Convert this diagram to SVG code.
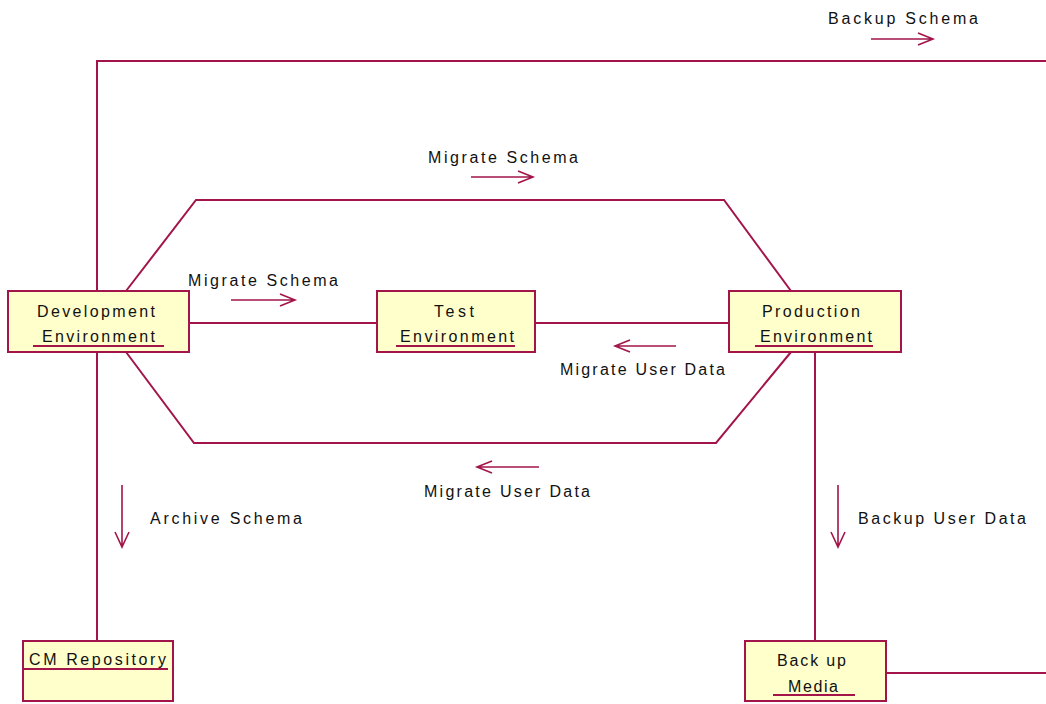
<svg xmlns="http://www.w3.org/2000/svg" width="1046" height="704" viewBox="0 0 1046 704">
<style>
.box{fill:#ffffcc;stroke:#a3154a;stroke-width:2}
.ln{fill:none;stroke:#a3154a;stroke-width:2}
.ul{stroke:#a3154a;stroke-width:2}
.ar{fill:none;stroke:#a3154a;stroke-width:1.6}
text{font-family:"Liberation Sans",Arial,sans-serif;font-size:16px;fill:#111}
</style>
<rect width="1046" height="704" fill="#ffffff"/>
<g id="connectors">
<polyline class="ln" points="97,291 97,61 1046,61"/>
<polyline class="ln" points="126,291 196,200 724,200 791,291"/>
<polyline class="ln" points="126,352 194,443 716,443 791,352"/>
<line class="ln" x1="189" y1="323" x2="377" y2="323"/>
<line class="ln" x1="535" y1="323" x2="729" y2="323"/>
<line class="ln" x1="97" y1="352" x2="97" y2="641"/>
<line class="ln" x1="815" y1="352" x2="815" y2="641"/>
<line class="ln" x1="886" y1="673" x2="1046" y2="673"/>
<text x="828" y="24" textLength="150" lengthAdjust="spacing">Backup Schema</text>
<path class="ar" d="M871,39 H933 M918,33 L933,39 L918,45"/>
<text x="428" y="163" textLength="150" lengthAdjust="spacing">Migrate Schema</text>
<path class="ar" d="M471,177 H533 M518,171 L533,177 L518,183"/>
<text x="188" y="286" textLength="150" lengthAdjust="spacing">Migrate Schema</text>
<path class="ar" d="M231,300 H295 M280,294 L295,300 L280,306"/>
<text x="560" y="375" textLength="165" lengthAdjust="spacing">Migrate User Data</text>
<path class="ar" d="M676,346 H615 M630,340 L615,346 L630,352"/>
<text x="424" y="497" textLength="166" lengthAdjust="spacing">Migrate User Data</text>
<path class="ar" d="M539,467 H477 M492,461 L477,467 L492,473"/>
<text x="150" y="524" textLength="152" lengthAdjust="spacing">Archive Schema</text>
<path class="ar" d="M122,485 V547 M115,532 L122,547 L129,532"/>
<text x="858" y="524" textLength="168" lengthAdjust="spacing">Backup User Data</text>
<path class="ar" d="M838,485 V547 M831,532 L838,547 L845,532"/>
</g>
<g id="dev">
<rect class="box" x="8" y="291" width="181" height="61"/>
<text x="37" y="317" textLength="118" lengthAdjust="spacing">Development</text>
<text x="42" y="342" textLength="113" lengthAdjust="spacing">Environment</text>
<line class="ul" x1="33" y1="346" x2="164" y2="346"/>
</g>
<g id="test">
<rect class="box" x="377" y="291" width="158" height="61"/>
<text x="434" y="317" textLength="40" lengthAdjust="spacing">Test</text>
<text x="400" y="342" textLength="114" lengthAdjust="spacing">Environment</text>
<line class="ul" x1="396" y1="346" x2="515" y2="346"/>
</g>
<g id="prod">
<rect class="box" x="729" y="291" width="172" height="61"/>
<text x="762" y="317" textLength="98" lengthAdjust="spacing">Production</text>
<text x="760" y="342" textLength="112" lengthAdjust="spacing">Environment</text>
<line class="ul" x1="755" y1="346" x2="873" y2="346"/>
</g>
<g id="cm">
<rect class="box" x="23" y="641" width="150" height="60"/>
<text x="29" y="665" textLength="137" lengthAdjust="spacing">CM Repository</text>
<line class="ul" x1="23" y1="669" x2="168" y2="669"/>
</g>
<g id="backup">
<rect class="box" x="745" y="641" width="141" height="60"/>
<text x="777" y="666" textLength="69" lengthAdjust="spacing">Back up</text>
<text x="788" y="692" textLength="50" lengthAdjust="spacing">Media</text>
<line class="ul" x1="773" y1="695" x2="855" y2="695"/>
</g>
</svg>
